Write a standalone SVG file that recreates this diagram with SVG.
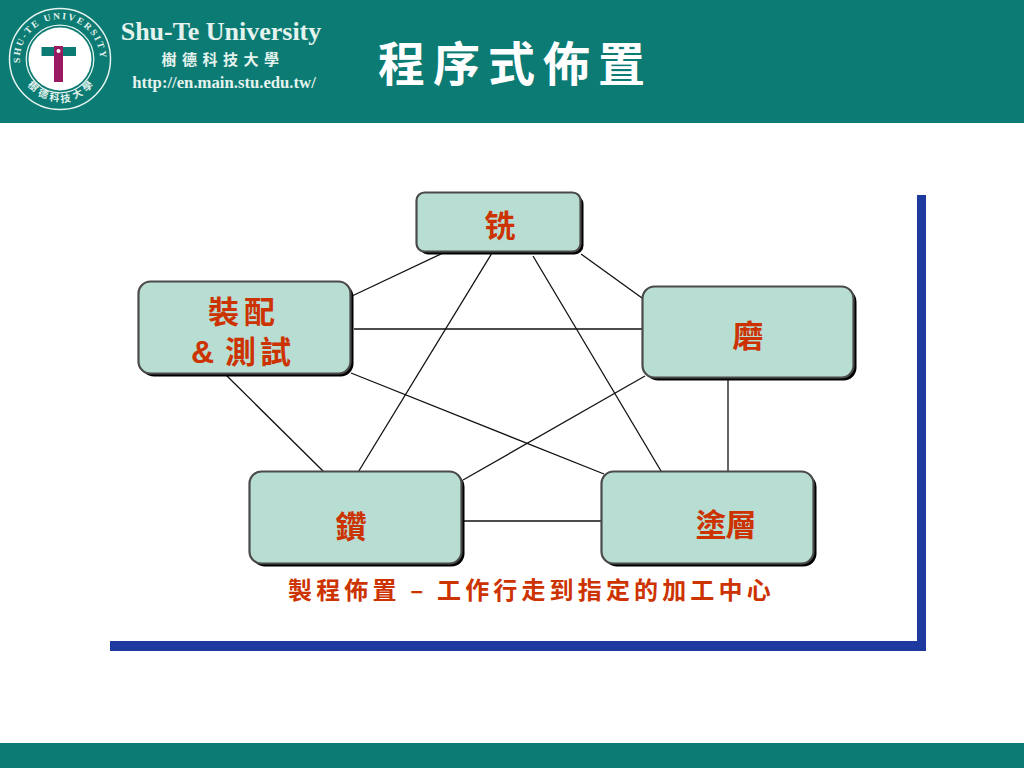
<svg xmlns="http://www.w3.org/2000/svg" xmlns:xlink="http://www.w3.org/1999/xlink" width="1024" height="768" viewBox="0 0 1024 768">
<style>
.box{fill:#b8ddd2;stroke:#4a4a4a;stroke-width:2.200}
.shadow{fill:#000}
.lbl{font-family:"Noto Sans CJK TC","Liberation Sans",sans-serif;font-weight:700;font-size:31px;fill:#cc3300;text-anchor:middle}
.conn line{stroke:#111;stroke-width:1.3}
.cap{font-family:"Noto Sans CJK TC","Liberation Sans",sans-serif;font-weight:700;font-size:24px;fill:#cc3300;letter-spacing:4.150px}
.ser{font-family:"Liberation Serif",serif;font-weight:700;fill:#e4f3ee}
.cjk{font-family:"Noto Sans CJK TC",sans-serif;font-weight:700}
.seal{font-family:"Noto Sans CJK TC",sans-serif;font-weight:700;font-size:10px;fill:#e4f3ee;text-anchor:middle}
</style>
<defs>
<path id="arcTop" d="M21 68 A40 40 0 1 1 99 68"/>
</defs>
<rect width="1024" height="768" fill="#fff"/>
<rect id="header" width="1024" height="123" fill="#0c7b74"/>
<rect id="footer" y="743" width="1024" height="25" fill="#0c7b74"/>
<g id="logo">
<circle cx="60" cy="59" r="50.500" fill="none" stroke="#e4f3ee" stroke-width="1.500"/>
<circle cx="60" cy="59" r="31.500" fill="#fff"/>
<circle cx="60" cy="59" r="33.800" fill="none" stroke="#e4f3ee" stroke-width="1.300"/>
<rect x="41.500" y="47" width="34.500" height="9" fill="#0c7b74"/>
<rect x="54" y="46" width="9" height="36" fill="#9a1a62"/>
<circle cx="58.500" cy="51" r="2" fill="#fff"/>
<text font-family="Liberation Serif,serif" font-weight="700" font-size="9.500" fill="#e4f3ee" letter-spacing="1.900"><textPath xlink:href="#arcTop" href="#arcTop" startOffset="5">SHU-TE UNIVERSITY</textPath></text>
<text class="seal" transform="translate(31 89) rotate(40)">樹</text>
<text class="seal" transform="translate(42 97) rotate(22)">德</text>
<text class="seal" transform="translate(54 101) rotate(6)">科</text>
<text class="seal" transform="translate(66 102) rotate(-8)">技</text>
<text class="seal" transform="translate(79 97) rotate(-25)">大</text>
<text class="seal" transform="translate(90 89) rotate(-42)">學</text>
</g>
<g id="brand">
<text class="ser" x="221" y="40" font-size="26" text-anchor="middle">Shu-Te University</text>
<text class="cjk" x="223" y="65" font-size="15" fill="#e4f3ee" letter-spacing="5.500" text-anchor="middle">樹德科技大學</text>
<text class="ser" x="224" y="88" font-size="16.700" text-anchor="middle">http://en.main.stu.edu.tw/</text>
</g>
<text id="title" class="cjk" x="378" y="81" font-size="47" fill="#fff" letter-spacing="8">程序式佈置</text>
<g id="frame" fill="#1f3a9e">
<rect x="917" y="195" width="9" height="456"/>
<rect x="110" y="641" width="816" height="10"/>
</g>
<g id="connectors" class="conn">
<line x1="352" y1="296" x2="443" y2="253"/>
<line x1="492" y1="253" x2="357" y2="474"/>
<line x1="533" y1="256" x2="661" y2="471"/>
<line x1="581" y1="254" x2="642" y2="298"/>
<line x1="354" y1="329" x2="642" y2="329"/>
<line x1="351" y1="373" x2="604" y2="474"/>
<line x1="226" y1="375" x2="326" y2="474"/>
<line x1="645" y1="376" x2="463" y2="480"/>
<line x1="728" y1="377" x2="728" y2="471"/>
<line x1="464" y1="521" x2="601" y2="521"/>
</g>
<g id="node-mill">
<rect class="shadow" x="419" y="195" width="164.500" height="59.500" rx="9"/>
<rect class="box" x="416.500" y="192.500" width="164" height="59" rx="8"/>
<text class="lbl" x="500" y="237">铣</text>
</g>
<g id="node-assembly">
<rect class="shadow" x="141" y="284" width="212.500" height="92.500" rx="13"/>
<rect class="box" x="138.500" y="281.500" width="212" height="92" rx="12"/>
<text class="lbl"><tspan x="244" y="323" letter-spacing="5">裝配</tspan><tspan x="191" y="363" style="text-anchor:start;font-family:'Liberation Sans',sans-serif;font-size:32px">&amp;</tspan><tspan x="225" y="363" style="text-anchor:start" letter-spacing="4">測試</tspan></text>
</g>
<g id="node-grind">
<rect class="shadow" x="645" y="289" width="211.500" height="91.500" rx="13"/>
<rect class="box" x="642.500" y="286.500" width="211" height="91" rx="12"/>
<text class="lbl" x="748" y="347">磨</text>
</g>
<g id="node-drill">
<rect class="shadow" x="252" y="474" width="212.500" height="92.500" rx="13"/>
<rect class="box" x="249.500" y="471.500" width="212" height="92" rx="12"/>
<text class="lbl" x="351" y="538">鑽</text>
</g>
<g id="node-coat">
<rect class="shadow" x="604" y="474" width="212.500" height="92.500" rx="13"/>
<rect class="box" x="601.500" y="471.500" width="212" height="92" rx="12"/>
<text class="lbl" x="725.500" y="536" letter-spacing="-1">塗層</text>
</g>
<text id="caption" class="cap" x="288" y="599">製程佈置 – 工作行走到指定的加工中心</text>
</svg>
